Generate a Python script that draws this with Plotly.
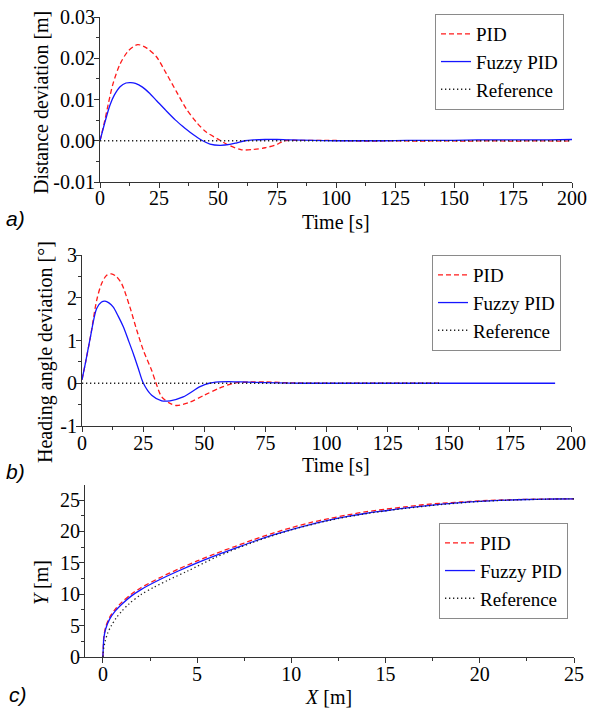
import plotly.graph_objects as go

# ---------------- Data ----------------
# Panel a) distance deviation [m] vs time [s]
t_a_pid = [0, 2, 3.5, 5.5, 8.5, 12, 16, 20, 24, 28, 32.5, 36.5, 41, 45, 50, 52, 55, 60, 65, 70, 75, 78,
           85, 95, 105, 115, 125, 135, 145, 155, 165, 175, 185, 195, 200]
d_pid = [0, 0.0048, 0.0089, 0.0138, 0.0186, 0.0218, 0.0233, 0.0224, 0.0203, 0.0164, 0.0118, 0.0078,
         0.0044, 0.0021, 0.0004, -0.0003, -0.0012, -0.0022, -0.0021, -0.0017, -0.0009, 0.0,
         0.0001, 0.0001, 0.0, -0.0001, 0.0, -0.0001, 0.0, -0.0001, 0.0, -0.0001, 0.0, -0.0001, 0.0]
t_a_fuzzy = [0, 2, 4.2, 6, 8.5, 11, 13, 15, 18, 21, 24, 28, 32, 35, 38, 41, 43.5, 46.6, 50.8, 55, 58, 61.4,
             65, 70, 75, 80, 90, 100, 110, 120, 130, 140, 150, 160, 170, 180, 190, 200]
d_fuzzy = [0, 0.0043, 0.0086, 0.0110, 0.0131, 0.0140, 0.0141, 0.0139, 0.0130, 0.0115, 0.0097, 0.0073,
           0.0050, 0.0035, 0.0021, 0.0009, 0.0000, -0.0008, -0.0011, -0.0009, -0.0005, 0.0, 0.0002, 0.0003,
           0.0003, 0.0002, 0.0001, 0.0, 0.0, 0.0, 0.0001, 0.0001, 0.0001, 0.0002, 0.0002, 0.0002,
           0.0002, 0.0003]
t_a_ref = [0, 200]
d_ref = [0, 0]

# Panel b) heading angle deviation [deg] vs time [s]
t_b_pid = [0, 1.5, 3.5, 6, 8, 10, 12, 14, 16.2, 19.6, 22.4, 25.1, 28.5, 30.3, 32.6, 36, 38.7, 44.2,
           50, 56, 62, 68, 75, 85, 100, 115, 130, 146]
h_pid = [0.08, 0.5, 1.1, 1.94, 2.33, 2.52, 2.56, 2.5, 2.33, 1.78, 1.24, 0.77, 0.30, 0.0, -0.32,
         -0.47, -0.52, -0.44, -0.28, -0.12, 0.0, 0.03, 0.03, 0.01, 0.0, 0.0, 0.0, 0.0]
t_b_fuzzy = [0, 1.5, 3.3, 6, 8, 9.4, 11, 12.8, 14.8, 16.9, 19, 21, 23, 25.1, 28.5, 32.6, 36, 41.4,
             48.3, 52, 56, 60, 65, 70, 80, 90, 100, 120, 140, 160, 180, 193.5]
h_fuzzy = [0.08, 0.5, 1.04, 1.75, 1.9, 1.92, 1.88, 1.78, 1.57, 1.32, 1.0, 0.69, 0.35, 0.0, -0.28,
           -0.41, -0.41, -0.32, -0.08, 0.0, 0.03, 0.04, 0.03, 0.02, 0.01, 0.0, 0.0, 0.0, 0.0, 0.0,
           0.0, 0.0]
t_b_ref = [0, 146]
h_ref = [0, 0]

# Panel c) trajectory Y [m] vs X [m]
x_c = [0, 0.02, 0.05, 0.15, 0.35, 0.65, 1, 1.5, 2, 3, 4, 5, 6, 7, 8, 9, 10, 11, 12, 13, 14, 15, 16,
       17, 18, 19, 20, 21, 22, 23, 24, 25]
y_c_fuzzy = [0, 1.5, 3.0, 4.5, 6.0, 7.3, 8.4, 9.7, 10.7, 12.3, 13.7, 15.0, 16.2, 17.3, 18.4, 19.4,
             20.3, 21.1, 21.8, 22.4, 22.9, 23.3, 23.7, 24.05, 24.35, 24.6, 24.8, 24.95, 25.05,
             25.12, 25.17, 25.2]
y_c_pid = [0, 1.6, 3.2, 4.8, 6.3, 7.6, 8.7, 10.0, 11.0, 12.6, 14.0, 15.3, 16.5, 17.6, 18.7, 19.7,
           20.6, 21.4, 22.05, 22.65, 23.15, 23.55, 23.9, 24.25, 24.5, 24.7, 24.88, 25.0, 25.08,
           25.14, 25.18, 25.2]
x_c_ref = [0, 0.05, 0.12, 0.25, 0.45, 0.7, 1.0, 1.4, 2.0, 2.7, 3.5, 4.5, 6, 8, 10, 12, 14, 16, 18,
           20, 22, 24, 25]
y_c_ref = [0, 1.5, 2.5, 3.8, 5.0, 6.2, 7.3, 8.5, 9.9, 11.1, 12.3, 13.7, 15.9, 18.3, 20.25, 21.75,
           22.85, 23.65, 24.3, 24.78, 25.03, 25.16, 25.2]

# tick labels
ya_vals = [-0.01, 0.0, 0.01, 0.02, 0.03]
ya_text = ["-0.01", "0.00", "0.01", "0.02", "0.03"]
yb_vals = [-1, 0, 1, 2, 3]
yb_text = ["-1", "0", "1", "2", "3"]

series_names = ["PID", "Fuzzy PID", "Reference"]

# ---------------- Styles ----------------
W, H = 589, 709
RED = "#ff1a1a"
BLUE = "#1515ff"
REFC = "#222222"
SERIF = "Liberation Serif, Times New Roman, Times, serif"
SANS = "Liberation Sans, Arial, sans-serif"
AX = "#333333"


def px_x(p):
    return p / W


def px_y(p):
    return 1 - p / H


fig = go.Figure()


def add_set(xs, ys, xref, yref, legend):
    (xp, xf, xr), (yp, yf, yr) = xs, ys
    fig.add_trace(go.Scatter(x=xp, y=yp, mode="lines", name=series_names[0],
                             line=dict(color=RED, width=1.3, dash="5px,3px", shape="spline", smoothing=0.8),
                             xaxis=xref, yaxis=yref, legend=legend))
    fig.add_trace(go.Scatter(x=xf, y=yf, mode="lines", name=series_names[1],
                             line=dict(color=BLUE, width=1.3, shape="spline", smoothing=0.8),
                             xaxis=xref, yaxis=yref, legend=legend))
    fig.add_trace(go.Scatter(x=xr, y=yr, mode="lines", name=series_names[2],
                             line=dict(color=REFC, width=1.3, dash="1.3px,2.7px", shape="spline", smoothing=0.8),
                             xaxis=xref, yaxis=yref, legend=legend))


add_set((t_a_pid, t_a_fuzzy, t_a_ref), (d_pid, d_fuzzy, d_ref), "x", "y", "legend")
add_set((t_b_pid, t_b_fuzzy, t_b_ref), (h_pid, h_fuzzy, h_ref), "x2", "y2", "legend2")
add_set((x_c, x_c, x_c_ref), (y_c_pid, y_c_fuzzy, y_c_ref), "x3", "y3", "legend3")

tickfont = dict(family=SERIF, size=20, color="black")


def axis_common(**kw):
    d = dict(showline=True, linecolor=AX, linewidth=1, ticks="outside", ticklen=5, tickwidth=1,
             tickcolor=AX, showgrid=False, zeroline=False, tickfont=tickfont, fixedrange=True,
             automargin=False)
    d.update(kw)
    return d


XSO = -6
YSO = -5
layout = dict(
    width=W, height=H, margin=dict(l=0, r=0, t=0, b=0, autoexpand=False),
    paper_bgcolor="white", plot_bgcolor="white",
    xaxis=axis_common(domain=[px_x(100), px_x(572)], range=[0, 200], dtick=25, anchor="y",
                      ticklabelstandoff=-7,
                      minor=dict(dtick=12.5, ticks="outside", ticklen=3, tickcolor=AX)),
    yaxis=axis_common(domain=[px_y(182), px_y(17)], range=[-0.01, 0.03], tickvals=ya_vals,
                      ticktext=ya_text, anchor="x", ticklabelstandoff=YSO,
                      minor=dict(dtick=0.005, ticks="outside", ticklen=3, tickcolor=AX)),
    xaxis2=axis_common(domain=[px_x(82), px_x(571)], range=[0, 200], dtick=25, anchor="y2",
                       ticklabelstandoff=XSO,
                       minor=dict(dtick=12.5, ticks="outside", ticklen=3, tickcolor=AX)),
    yaxis2=axis_common(domain=[px_y(426), px_y(255)], range=[-1, 3], tickvals=yb_vals,
                       ticktext=yb_text, anchor="x2", ticklabelstandoff=YSO,
                       minor=dict(dtick=0.5, ticks="outside", ticklen=3, tickcolor=AX)),
    xaxis3=axis_common(domain=[px_x(85), px_x(574)], range=[-0.95, 25], dtick=5, anchor="y3",
                       ticklabelstandoff=XSO,
                       minor=dict(dtick=2.5, ticks="outside", ticklen=3, tickcolor=AX)),
    yaxis3=axis_common(domain=[px_y(657), px_y(485)], range=[0, 27.4], dtick=5, anchor="x3",
                       ticklabelstandoff=YSO,
                       minor=dict(dtick=2.5, ticks="outside", ticklen=3, tickcolor=AX)),
)

leg_common = dict(bgcolor="white", bordercolor="#8a8a8a", borderwidth=1,
                  font=dict(family=SERIF, size=19, color="black"),
                  xanchor="right", yanchor="top", tracegroupgap=0, itemwidth=30)
layout["legend"] = dict(x=px_x(564), y=px_y(14), **leg_common)
layout["legend2"] = dict(x=px_x(561), y=px_y(255), **leg_common)
layout["legend3"] = dict(x=px_x(568), y=px_y(523), **leg_common)

fig.update_layout(**layout)

# axis titles and panel labels
ann = []


def txt(text, x, y, angle=0, family=SERIF, size=20):
    ann.append(dict(text=text, x=px_x(x), y=px_y(y), xref="paper", yref="paper",
                    showarrow=False, textangle=angle, xanchor="center", yanchor="middle",
                    font=dict(family=family, size=size, color="black")))


txt("Distance deviation [m]", 41, 103, -90)
txt("Time [s]", 336, 222)
txt("Heading angle deviation [°]", 45, 352, -90)
txt("Time [s]", 336, 465)
txt("<i>Y</i> [m]", 41, 583, -90)
txt("<i>X</i> [m]", 328, 697)
txt("<i>a)</i>", 15, 219, family=SANS, size=21)
txt("<i>b)</i>", 15, 471, family=SANS, size=21)
txt("<i>c)</i>", 18, 694, family=SANS, size=21)

fig.update_layout(annotations=ann)

fig.write_html("out.html")
